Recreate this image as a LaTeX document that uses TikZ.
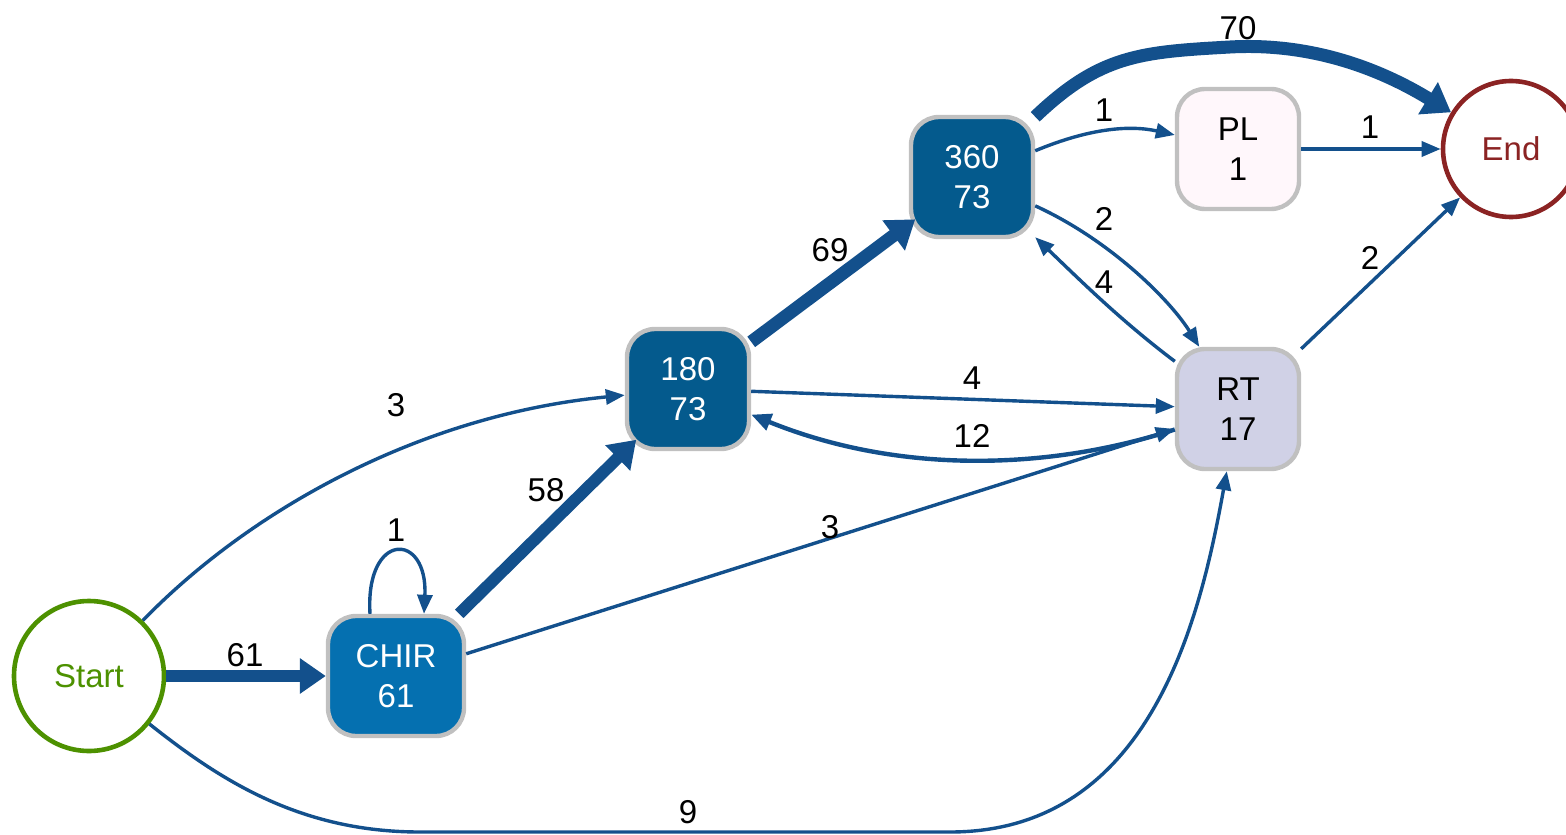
\documentclass[tikz,border=0pt]{standalone}
\usepackage{fontspec}
\setmainfont{Liberation Sans}
\usetikzlibrary{arrows.meta,calc}
\definecolor{edgec}{RGB}{19,80,140}
\definecolor{startc}{RGB}{77,145,0}
\definecolor{endc}{RGB}{139,35,35}
\definecolor{bordc}{RGB}{192,192,192}
\definecolor{chirc}{HTML}{0570B0}
\definecolor{darkc}{HTML}{045A8D}
\definecolor{plc}{HTML}{FFF7FB}
\definecolor{rtc}{HTML}{D0D1E6}
\begin{document}
\begin{tikzpicture}[x=0.5pt,y=-0.5pt,
  font=\fontsize{16.5pt}{20pt}\selectfont,
  box/.style={rectangle, rounded corners=14pt, draw=bordc, line width=2.2pt,
    minimum width=61pt, minimum height=60pt, align=center, inner sep=0pt},
  circ/.style={circle, line width=2.3pt, fill=white, inner sep=0pt},
  lbl/.style={inner sep=0pt, text=black},
  thin/.style={draw=edgec, line width=1.7pt, -{Triangle[length=9.5pt,width=7.5pt]}},
  mid/.style={draw=edgec, line width=2.2pt, -{Triangle[length=10pt,width=8.5pt]}},
  thick/.style={draw=edgec, line width=6pt, -{Triangle[length=13pt,width=17pt]}},
  thicker/.style={draw=edgec, line width=6.5pt, -{Triangle[length=13.5pt,width=18pt]}}
]
\useasboundingbox (0,0) rectangle (1566,834);

% nodes
\node[circ, draw=startc, text=startc, minimum size=75pt] (Start) at (89,676) {Start};
\node[circ, draw=endc, text=endc, minimum size=68pt] (End) at (1511,149) {End};
\node[box, fill=chirc, text=white, minimum width=68pt] (CHIR) at (396,676) {CHIR\\61};
\node[box, fill=darkc, text=white] (n180) at (688,389) {180\\73};
\node[box, fill=darkc, text=white] (n360) at (972,177) {360\\73};
\node[box, fill=plc, text=black] (PL) at (1238,149) {PL\\1};
\node[box, fill=rtc, text=black] (RT) at (1238,409) {RT\\17};

% edges
\draw[thick] (Start) -- (CHIR);
\draw[thin] (Start) .. controls (250,510) and (420,415) .. (n180);
\draw[thin] (Start) .. controls (220,780) and (300,832) .. (420,832)
   -- (950,832) .. controls (1150,832) and (1200,620) .. (RT);
\draw[thin] ($(CHIR.north)+(-26,0)$) .. controls (365,531) and (428,531) .. ($(CHIR.north)+(28,0)$);
\draw[thick, shorten >=-8pt] (CHIR) -- (n180);
\draw[thin] (CHIR) -- (RT);
\draw[thicker, shorten >=-4pt] (n180) -- (n360);
\draw[thin] (n180) -- (RT);
\draw[mid] (RT) .. controls (1050,470) and (900,475) .. (n180);
\draw[thicker] (n360) .. controls (1100,55) and (1140,52) .. (1230,47)
   .. controls (1320,42) and (1390,75) .. (End);
\draw[thin] (n360) .. controls (1090,128) and (1130,125) .. (PL);
\draw[thin] (PL) -- (End);
\draw[thin] (n360) .. controls (1110,240) and (1170,300) .. (RT);
\draw[thin] (RT) .. controls (1120,320) and (1080,280) .. (n360);
\draw[thin] (RT) -- (End);

% labels
\node[lbl] (l61) at (245,655) {61};
\node[lbl] (l3a) at (396,405) {3};
\node[lbl] (l9) at (688,812) {9};
\node[lbl] (l1loop) at (396,530) {1};
\node[lbl] (l58) at (546,490) {58};
\node[lbl] (l3b) at (830,527) {3};
\node[lbl] (l69) at (830,250) {69};
\node[lbl] (l4a) at (972,378) {4};
\node[lbl] (l12) at (972,436) {12};
\node[lbl] (l70) at (1238,28) {70};
\node[lbl] (l1pl) at (1104,110) {1};
\node[lbl] (l1end) at (1370,127) {1};
\node[lbl] (l2rt) at (1104,219) {2};
\node[lbl] (l4b) at (1104,282) {4};
\node[lbl] (l2end) at (1370,258) {2};
\end{tikzpicture}
\end{document}
